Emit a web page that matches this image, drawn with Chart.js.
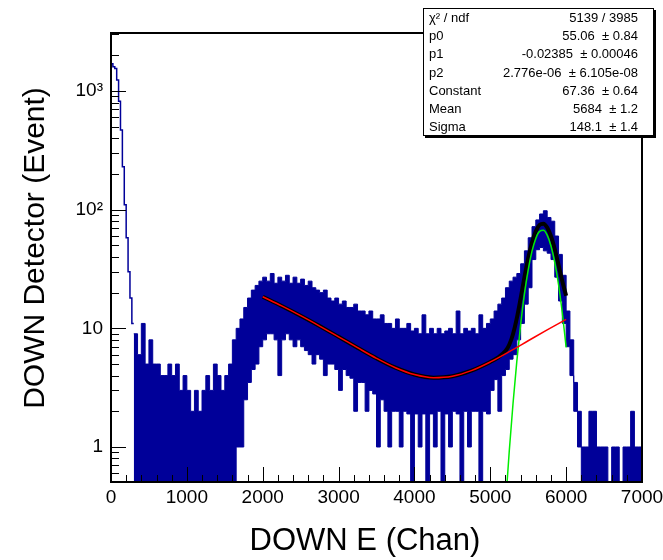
<!DOCTYPE html>
<html lang="en">
<head>
  <meta charset="UTF-8" />
  <title>DOWN E (Chan)</title>

  <!-- Chart.js for plotting -->
  <script src="https://cdn.jsdelivr.net/npm/chart.js"></script>

  <style>
    html, body {
      margin: 0;
      padding: 0;
      background: #fff;
    }
    canvas {
      display: block;
    }
  </style>
</head>
<body>
  <canvas id="downChart" width="663" height="560"></canvas>

  <script>
    // ---- histogram: steep start (25 chan bins, lower edges) ----
    const headChan = [0, 25, 50, 75, 100, 125, 150, 175, 200, 225, 250, 275, 300];
    const headCounts = [1700, 1600, 1550, 1240, 820, 470, 230, 110, 58, 30, 18, 11, 11];

    // ---- histogram body: 50 chan bins from 300, upper / lower edge of the noisy band ----
    const binStart = 300;
    const binWidth = 50;
    const hiCounts = [
      9, 6, 11, 5, 8, 5, 5, 4, 4, 5,
      4, 5, 3, 4, 3, 2, 3, 2, 3, 4,
      3, 5, 4, 3, 4, 5, 8, 10, 12, 15,
      18, 21, 23, 25, 27, 25, 29, 24, 27, 25,
      28, 24, 27, 24, 26, 23, 25, 22, 21, 20,
      21, 18, 17, 18, 16, 17, 15, 15, 16, 14,
      14, 13, 14, 12, 12, 13, 11, 11, 10, 12,
      10, 10, 11, 9.5, 10, 9, 13, 9, 10, 9,
      10, 9, 9.5, 10, 9, 14, 9, 10, 9.5, 10,
      9, 13, 10, 11, 12, 14, 16, 18, 22, 25,
      27, 29, 35, 45, 58, 72, 82, 92, 98, 86,
      80, 60, 42, 28, 14, 8, 3.5, 2, 1, 1,
      2, 2, 1, 1, 1, 0.4, 1, 1, 0.4, 1,
      1, 2, 1, 1, 1
    ];
    const loCounts = [
      0.4, 0.4, 0.4, 0.4, 0.4, 0.4, 0.4, 0.4, 0.4, 0.4,
      0.4, 0.4, 0.4, 0.4, 0.4, 0.4, 0.4, 0.4, 0.4, 0.4,
      0.4, 0.4, 0.4, 0.4, 0.4, 0.4, 0.4, 1, 1, 2.5,
      3.5, 4.5, 5, 7, 8, 9, 9, 8, 4, 8,
      9, 8, 7, 8, 7, 6.5, 6, 5, 6, 5.5,
      4, 5, 5, 4.5, 3, 4.5, 4, 3.8, 2, 3.5,
      3.5, 2, 3, 2.8, 1, 2.5, 2, 1, 2, 2,
      1, 2, 1.9, 0.4, 1.9, 1, 1.9, 0.4, 1.9, 1,
      2, 0.4, 1.9, 1, 2, 1.9, 0.4, 2, 1, 2,
      2, 0.4, 2, 1.9, 3, 3.7, 2, 4, 4.5, 5.5,
      6, 8, 11, 16, 22, 38, 46, 48, 45, 43,
      38, 27, 17, 11, 7, 4, 2, 1, 0.4, 0.4,
      0.4, 0.4, 0.4, 0.4, 0.4, 0.4, 0.4, 0.4, 0.4, 0.4,
      0.4, 0.4, 0.4, 0.4, 0.4
    ];

    // ---- fit curves ----
    const bgChan = [2000, 2250, 2500, 2750, 3000, 3250, 3500, 3750, 4000, 4250, 4500, 4750, 5000, 5250, 5500, 5750, 6000];
    const bgFit = [18.46, 15.45, 12.79, 10.46, 8.49, 6.87, 5.59, 4.66, 4.08, 3.84, 3.95, 4.40, 5.21, 6.36, 7.86, 9.70, 11.90];

    const gausChan = [5200, 5250, 5300, 5350, 5400, 5450, 5500, 5550, 5600, 5650, 5700, 5750, 5800, 5850, 5900, 5950, 6000];
    const gausFit = [0.32, 0.92, 2.34, 5.30, 10.7, 19.4, 31.1, 44.7, 57.3, 65.6, 67.0, 61.0, 49.5, 35.9, 23.3, 13.4, 6.92];

    const totalChan = [2000, 2250, 2500, 2750, 3000, 3250, 3500, 3750, 4000, 4250, 4500, 4750, 5000, 5100, 5200, 5250, 5300, 5350, 5400, 5450, 5500, 5550, 5600, 5650, 5700, 5750, 5800, 5850, 5900, 5950, 6000];
    const totalFit = [18.46, 15.45, 12.79, 10.46, 8.49, 6.87, 5.59, 4.66, 4.08, 3.84, 3.95, 4.40, 5.21, 5.66, 6.43, 7.28, 8.97, 12.2, 17.9, 26.9, 39.0, 52.9, 65.9, 74.5, 76.3, 70.7, 59.7, 46.4, 34.2, 24.8, 18.8];

    // ---- axes ----
    const xTickVals = [0, 1000, 2000, 3000, 4000, 5000, 6000, 7000];
    const xTickLabels = ['0', '1000', '2000', '3000', '4000', '5000', '6000', '7000'];
    const yTickVals = [1, 10, 100, 1000];
    const yTickLabels = ['1', '10', '10\u00B2', '10\u00B3'];

    // ---- stats box ----
    const statNames = ['\u03C7\u00B2 / ndf', 'p0', 'p1', 'p2', 'Constant', 'Mean', 'Sigma'];
    const statValues = ['5139 / 3985', '55.06  \u00B1 0.84', '-0.02385  \u00B1 0.00046', '2.776e-06  \u00B1 6.105e-08', '67.36  \u00B1 0.64', '5684  \u00B1 1.2', '148.1  \u00B1 1.4'];

    const HIST = '#000099';
    const FONT = "'Liberation Sans', Arial, sans-serif";

    const toPoints = (xs, ys) => xs.map((x, i) => ({ x: x, y: ys[i] }));
    const binEdges = hiCounts.map((_, i) => binStart + i * binWidth);

    // inward ROOT style ticks + frame
    const frameTicks = {
      id: 'frameTicks',
      afterDatasetsDraw(chart) {
        const { ctx, chartArea: a, scales: { x, y } } = chart;
        ctx.save();
        ctx.strokeStyle = '#000';
        ctx.lineWidth = 1;
        ctx.beginPath();
        for (let v = 0; v <= 7000; v += 200) {
          const px = Math.round(x.getPixelForValue(v)) + 0.5;
          const len = v % 1000 === 0 ? 15 : 7;
          ctx.moveTo(px, a.bottom);
          ctx.lineTo(px, a.bottom - len);
        }
        for (let dec = 0.1; dec <= 1000; dec *= 10) {
          for (let m = 1; m <= 9; m++) {
            const v = dec * m;
            if (v < y.min || v > y.max) continue;
            const py = Math.round(y.getPixelForValue(v)) + 0.5;
            const len = m === 1 ? 15 : 8;
            ctx.moveTo(a.left, py);
            ctx.lineTo(a.left + len, py);
          }
        }
        ctx.stroke();
        ctx.lineWidth = 2;
        ctx.strokeRect(a.left, a.top, a.right - a.left, a.bottom - a.top);
        ctx.restore();
      }
    };

    // axis titles and the fit statistics box
    const annotations = {
      id: 'annotations',
      afterDraw(chart) {
        const ctx = chart.ctx;
        ctx.save();
        ctx.fillStyle = '#000';
        ctx.textAlign = 'center';
        ctx.textBaseline = 'middle';
        ctx.font = '31px ' + FONT;
        ctx.fillText('DOWN E (Chan)', 365, 541);
        ctx.translate(36, 248);
        ctx.rotate(-Math.PI / 2);
        ctx.font = '30px ' + FONT;
        ctx.fillText('DOWN Detector (Event)', 0, 0);
        ctx.restore();

        // stats box
        ctx.save();
        ctx.fillStyle = '#000';
        ctx.fillRect(425, 10, 231, 128);
        ctx.fillStyle = '#fff';
        ctx.fillRect(423, 8, 231, 128);
        ctx.strokeStyle = '#000';
        ctx.lineWidth = 1;
        ctx.strokeRect(423.5, 8.5, 230, 127);
        ctx.fillStyle = '#000';
        ctx.font = '13px ' + FONT;
        ctx.textBaseline = 'middle';
        statNames.forEach((name, i) => {
          const ty = 18.5 + i * 18.2;
          ctx.textAlign = 'left';
          ctx.fillText(name, 429, ty);
          ctx.textAlign = 'right';
          ctx.fillText(statValues[i], 638, ty);
        });
        ctx.restore();
      }
    };

    const ctx = document.getElementById('downChart').getContext('2d');

    new Chart(ctx, {
      type: 'line',
      data: {
        datasets: [
          {
            label: 'lo',
            data: toPoints(binEdges, loCounts),
            stepped: true,
            borderColor: HIST,
            borderWidth: 1,
            pointRadius: 0,
            fill: false,
            order: 5
          },
          {
            label: 'hi',
            data: toPoints(binEdges, hiCounts),
            stepped: true,
            borderColor: HIST,
            backgroundColor: HIST,
            borderWidth: 1,
            pointRadius: 0,
            fill: '-1',
            order: 4
          },
          {
            label: 'head',
            data: toPoints(headChan, headCounts),
            stepped: true,
            borderColor: HIST,
            borderWidth: 1.5,
            pointRadius: 0,
            fill: false,
            order: 3
          },
          {
            label: 'total',
            data: toPoints(totalChan, totalFit),
            borderColor: '#000',
            borderWidth: 4,
            pointRadius: 0,
            cubicInterpolationMode: 'monotone',
            fill: false,
            order: 2
          },
          {
            label: 'gaus',
            data: toPoints(gausChan, gausFit),
            borderColor: '#00ee00',
            borderWidth: 1.5,
            pointRadius: 0,
            cubicInterpolationMode: 'monotone',
            fill: false,
            order: 1
          },
          {
            label: 'pol2',
            data: toPoints(bgChan, bgFit),
            borderColor: '#ff0000',
            borderWidth: 1.5,
            pointRadius: 0,
            cubicInterpolationMode: 'monotone',
            fill: false,
            order: 0
          }
        ]
      },
      options: {
        responsive: false,
        animation: false,
        events: [],
        layout: { padding: { top: 33, right: 21, bottom: 0, left: 0 } },
        plugins: {
          legend: { display: false },
          tooltip: { enabled: false }
        },
        scales: {
          x: {
            type: 'linear',
            min: 0,
            max: 7000,
            afterBuildTicks: s => { s.ticks = xTickVals.map(v => ({ value: v })); },
            afterFit: s => { s.height = 78; s.paddingLeft = 0; s.paddingRight = 0; },
            grid: { display: false, drawTicks: false },
            border: { display: false },
            ticks: {
              autoSkip: false,
              maxRotation: 0,
              padding: 4,
              color: '#000',
              font: { family: FONT, size: 19 },
              callback: (v, i) => xTickLabels[i]
            }
          },
          y: {
            type: 'logarithmic',
            min: 0.507,
            max: 3085,
            afterBuildTicks: s => { s.ticks = yTickVals.map(v => ({ value: v })); },
            afterFit: s => { s.width = 111; s.paddingTop = 0; s.paddingBottom = 0; },
            grid: { display: false, drawTicks: false },
            border: { display: false },
            ticks: {
              autoSkip: false,
              padding: 8,
              color: '#000',
              font: { family: FONT, size: 19 },
              callback: (v, i) => yTickLabels[i]
            }
          }
        }
      },
      plugins: [frameTicks, annotations]
    });
  </script>
</body>
</html>
